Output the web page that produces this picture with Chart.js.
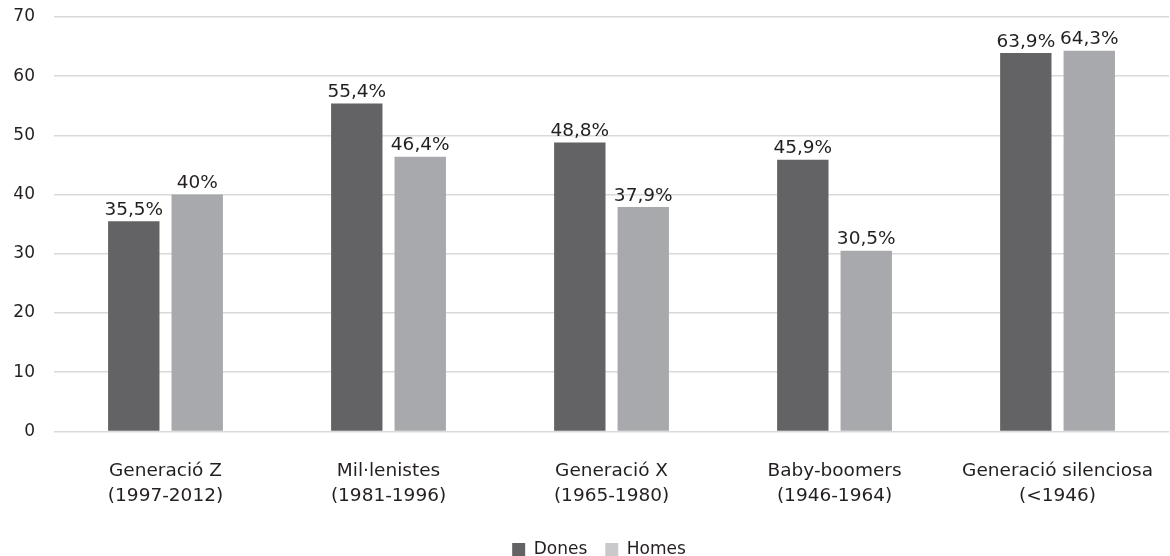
<!DOCTYPE html>
<html>
<head>
<meta charset="utf-8">
<script src="https://cdn.jsdelivr.net/npm/chart.js@4"></script>
<style>
    html, body { margin: 0; padding: 0; background: #fff; overflow: hidden; }
    #wrap { width: 1170px; height: 556px; overflow: hidden; }
</style>
</head>
<body>
<div id="wrap"><canvas id="chart" width="1180" height="556"></canvas></div>
<script>
// Generations (two-line labels)
const categories = [
    ['Generació Z', '(1997-2012)'],
    ['Mil·lenistes', '(1981-1996)'],
    ['Generació X', '(1965-1980)'],
    ['Baby-boomers', '(1946-1964)'],
    ['Generació silenciosa', '(<1946)']
];
const seriesNames = ['Dones', 'Homes'];
const dones = [35.5, 55.4, 48.8, 45.9, 63.9];
const homes = [40, 46.4, 37.9, 30.5, 64.3];
const yTicks = [0, 10, 20, 30, 40, 50, 60, 70];

const FONT = 'DejaVu Sans';
const TEXT = '#231f20';

// Format value like the source: comma decimal, no ",0"
function fmt(v) {
    return String(v).replace('.', ',') + '%';
}

// Draw value labels above each bar
const valueLabels = {
    id: 'valueLabels',
    afterDatasetsDraw: function(chart) {
        const ctx = chart.ctx;
        ctx.save();
        ctx.font = '18.5px "' + FONT + '"';
        ctx.fillStyle = TEXT;
        ctx.textAlign = 'center';
        ctx.textBaseline = 'bottom';
        chart.data.datasets.forEach(function(ds, i) {
            chart.getDatasetMeta(i).data.forEach(function(bar, j) {
                ctx.fillText(fmt(ds.data[j]), bar.x, bar.y - 2);
            });
        });
        ctx.restore();
    }
};

// Nudge the legend a little right, like the source
const legendShift = {
    id: 'legendShift',
    afterLayout: function(chart) {
        chart.legend.left += 9;
        chart.legend.right += 9;
    }
};

new Chart(document.getElementById('chart'), {
    type: 'bar',
    data: {
        labels: categories,
        datasets: [{
            label: seriesNames[0],
            data: dones,
            backgroundColor: '#636365'
        }, {
            label: seriesNames[1],
            data: homes,
            backgroundColor: '#a8a9ac'
        }]
    },
    options: {
        responsive: false,
        animation: false,
        layout: { padding: { top: 17, left: 0, right: 0, bottom: -12 } },
        datasets: {
            bar: { categoryPercentage: 0.569, barPercentage: 0.81 }
        },
        plugins: {
            tooltip: { enabled: false },
            legend: {
                position: 'bottom',
                labels: {
                    boxWidth: 13,
                    boxHeight: 13,
                    padding: 18,
                    color: TEXT,
                    font: { family: FONT, size: 17 },
                    generateLabels: function(chart) {
                        const items = Chart.defaults.plugins.legend.labels.generateLabels(chart);
                        const boxColors = ['#636365', '#c9c9cb'];
                        items.forEach(function(it, i) {
                            it.fillStyle = boxColors[i];
                            it.strokeStyle = boxColors[i];
                            it.lineWidth = 0;
                        });
                        return items;
                    }
                }
            }
        },
        scales: {
            x: {
                grid: { display: false, drawTicks: false },
                border: { display: false },
                ticks: {
                    color: TEXT,
                    padding: 27,
                    maxRotation: 0,
                    autoSkip: false,
                    font: { family: FONT, size: 18.5, lineHeight: 1.35 }
                },
                afterFit: function(scale) { scale.height = 91.6; }
            },
            y: {
                min: 0,
                max: 70,
                afterBuildTicks: function(scale) {
                    scale.ticks = yTicks.map(function(v) { return { value: v }; });
                },
                grid: { color: '#d9d9d9', lineWidth: 1.5, drawTicks: false },
                border: { display: false },
                ticks: {
                    color: TEXT,
                    padding: 19,
                    font: { family: FONT, size: 17 }
                },
                afterFit: function(scale) {
                    scale.width = 54;
                    scale.paddingTop = 0;
                    scale.paddingBottom = 0;
                }
            }
        }
    },
    plugins: [valueLabels, legendShift]
});
</script>
</body>
</html>
